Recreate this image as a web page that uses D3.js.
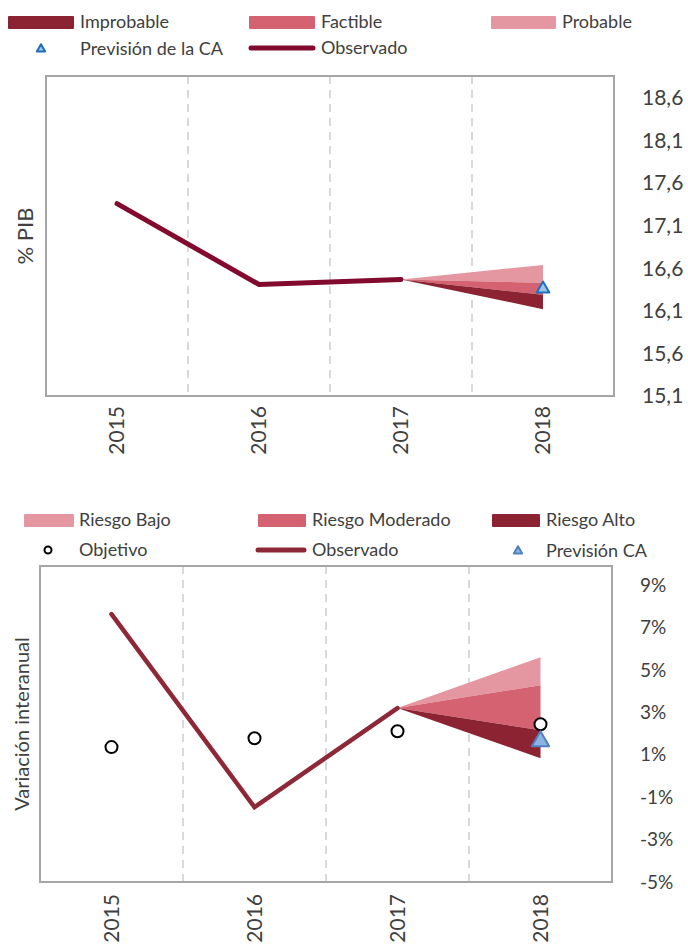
<!DOCTYPE html>
<html>
<head>
<meta charset="utf-8">
<script src="https://cdn.jsdelivr.net/npm/d3@7"></script>
<style>
  body { margin: 0; background: #fff; }
  text { font-family: Lato, "Open Sans", sans-serif; fill: #404040; }
</style>
</head>
<body>
<div class="chart"></div>
<script>
// datos
const years = ['2015', '2016', '2017', '2018'];

const pibObservado = [17.36, 16.41, 16.47];          // 2015-2017
const pibFan2018 = [16.12, 16.29, 16.43, 16.64];     // límites del abanico en 2018
const pibPrevisionCA = 16.36;
const pibTicks = [15.1, 15.6, 16.1, 16.6, 17.1, 17.6, 18.1, 18.6];

const varObservado = [7.63, -1.47, 3.2];
const varObjetivo = [1.36, 1.78, 2.11, 2.44];
const varFan2018 = [0.84, 2.16, 4.28, 5.6];
const varPrevisionCA = 1.64;
const varTicks = [-5, -3, -1, 1, 3, 5, 7, 9];

const cDark = '#8B2332', cMid = '#D56270', cLight = '#E497A0';

let svg = d3.select('.chart').append('svg').attr('width', 688).attr('height', 945);

// dibuja un panel: caja, líneas discontinuas, abanico, línea observada
let panel = (opt) => {
    let x = d3.scaleBand().domain(years).range([opt.left, opt.right]);
    let cx = (d) => x(d) + x.bandwidth() / 2;
    let y = d3.scaleLinear().domain(opt.domain).range([opt.bottom, opt.top]);
    let g = svg.append('g');

    // separadores discontinuos
    g.selectAll('line.sep').data(years.slice(1)).enter().append('line')
        .attr('x1', (d) => x(d)).attr('x2', (d) => x(d))
        .attr('y1', opt.top).attr('y2', opt.bottom)
        .attr('stroke', '#D9D9D9').attr('stroke-width', 2).attr('stroke-dasharray', '8,6');

    // abanico 2018
    let fan = opt.fan;
    let bands = [
        {lo: fan[2], hi: fan[3], c: cLight},
        {lo: fan[1], hi: fan[2], c: cMid},
        {lo: fan[0], hi: fan[1], c: cDark}
    ];
    let ax = cx('2017'), ay = y(opt.obs[2]);
    g.selectAll('path.fan').data(bands).enter().append('path')
        .attr('d', (d) => 'M' + ax + ',' + ay + 'L' + cx('2018') + ',' + y(d.hi) + 'L' + cx('2018') + ',' + y(d.lo) + 'Z')
        .attr('fill', (d) => d.c);

    g.append('path')
        .datum(opt.obs)
        .attr('d', d3.line().x((d, i) => cx(years[i])).y((d) => y(d)))
        .attr('fill', 'none').attr('stroke', opt.lineColor).attr('stroke-width', opt.lineWidth)
        .attr('stroke-linecap', 'round').attr('stroke-linejoin', 'miter');

    // caja
    g.append('rect')
        .attr('x', opt.left).attr('y', opt.top)
        .attr('width', opt.right - opt.left).attr('height', opt.bottom - opt.top)
        .attr('fill', 'none').attr('stroke', '#A6A6A6').attr('stroke-width', 2);

    // eje derecho
    let axis = g.append('g')
        .attr('transform', 'translate(' + (opt.right + 28) + ',0)')
        .call(d3.axisRight(y).tickValues(opt.ticks).tickSize(0).tickFormat(opt.fmt));
    axis.select('.domain').remove();
    axis.selectAll('text').attr('x', 0).style('font-size', opt.tickSize + 'px')
        .style('font-family', 'Lato, sans-serif').attr('fill', '#404040');

    // años
    g.selectAll('text.year').data(years).enter().append('text')
        .attr('transform', (d) => 'translate(' + cx(d) + ',' + (opt.bottom + opt.yearGap) + ') rotate(-90)')
        .attr('text-anchor', 'end').attr('dy', '0.35em')
        .style('font-size', '21px').text((d) => d);

    // título eje
    g.append('text')
        .attr('transform', 'translate(' + opt.titleX + ',' + ((opt.top + opt.bottom) / 2) + ') rotate(-90)')
        .attr('text-anchor', 'middle').attr('dy', '0.35em')
        .style('font-size', opt.titleSize + 'px').text(opt.title);

    return {x: x, cx: cx, y: y, g: g};
};

let triangle = (g, px, py, size, fill, stroke) => {
    g.append('path')
        .attr('d', d3.symbol().type(d3.symbolTriangle).size(size)())
        .attr('transform', 'translate(' + px + ',' + py + ')')
        .attr('fill', fill).attr('stroke', stroke).attr('stroke-width', 2).attr('stroke-linejoin', 'round');
};

// ---- Panel 1: % PIB
let p1 = panel({
    left: 46, right: 614, top: 76, bottom: 396,
    domain: [15.1, 18.86], ticks: pibTicks,
    fmt: (d) => d3.format('.1f')(d).replace('.', ','),
    obs: pibObservado, fan: pibFan2018,
    lineColor: '#820A2E', lineWidth: 5, tickSize: 21,
    yearGap: 10, title: '% PIB', titleX: 25, titleSize: 22
});
triangle(p1.g, p1.cx('2018'), p1.y(pibPrevisionCA), 70, '#9DC3E6', '#1F6FC0');

// ---- Panel 2: variación interanual
let p2 = panel({
    left: 40, right: 612, top: 566, bottom: 882,
    domain: [-5, 9.9], ticks: varTicks,
    fmt: (d) => d + '%',
    obs: varObservado, fan: varFan2018,
    lineColor: '#8E2736', lineWidth: 4.5, tickSize: 19,
    yearGap: 12, title: 'Variación interanual', titleX: 22, titleSize: 20
});
p2.g.selectAll('circle.obj').data(varObjetivo).enter().append('circle')
    .attr('cx', (d, i) => p2.cx(years[i])).attr('cy', (d) => p2.y(d))
    .attr('r', 6).attr('fill', '#fff').attr('stroke', '#000').attr('stroke-width', 2);
triangle(p2.g, p2.cx('2018'), p2.y(varPrevisionCA), 130, '#8DB3E2', '#4F81BD');

// ---- Leyendas
let legend = (items) => {
    let lg = svg.append('g');
    items.forEach((it) => {
        if (it.kind === 'rect') {
            lg.append('rect').attr('x', it.sx).attr('y', it.y - 6).attr('width', it.sw).attr('height', 13)
                .attr('fill', it.color).attr('rx', 1);
        } else if (it.kind === 'line') {
            lg.append('line').attr('x1', it.sx + 2).attr('x2', it.sx + it.sw - 2).attr('y1', it.y).attr('y2', it.y)
                .attr('stroke', it.color).attr('stroke-width', 5).attr('stroke-linecap', 'round');
        } else if (it.kind === 'tri') {
            triangle(lg, it.sx, it.y, 30, it.fill, it.color);
        } else if (it.kind === 'circle') {
            lg.append('circle').attr('cx', it.sx).attr('cy', it.y).attr('r', 3.5)
                .attr('fill', '#fff').attr('stroke', '#000').attr('stroke-width', 2);
        }
        lg.append('text').attr('x', it.tx).attr('y', it.y).attr('dy', '0.35em')
            .style('font-size', '18px').text(it.label);
    });
};

legend([
    {kind: 'rect', sx: 8, sw: 66, y: 22, color: cDark, tx: 80, label: 'Improbable'},
    {kind: 'rect', sx: 249, sw: 66, y: 22, color: cMid, tx: 321, label: 'Factible'},
    {kind: 'rect', sx: 491, sw: 65, y: 22, color: cLight, tx: 562, label: 'Probable'},
    {kind: 'tri', sx: 41, y: 49, color: '#1F6FC0', fill: '#9DC3E6', tx: 80, label: 'Previsión de la CA'},
    {kind: 'line', sx: 249, sw: 66, y: 48, color: '#820A2E', tx: 321, label: 'Observado'}
]);

legend([
    {kind: 'rect', sx: 24, sw: 50, y: 520, color: cLight, tx: 79, label: 'Riesgo Bajo'},
    {kind: 'rect', sx: 258, sw: 48, y: 520, color: cMid, tx: 312, label: 'Riesgo Moderado'},
    {kind: 'rect', sx: 492, sw: 48, y: 520, color: cDark, tx: 546, label: 'Riesgo Alto'},
    {kind: 'circle', sx: 48, y: 550, tx: 79, label: 'Objetivo'},
    {kind: 'line', sx: 256, sw: 50, y: 550, color: '#8E2736', tx: 312, label: 'Observado'},
    {kind: 'tri', sx: 518, y: 551, color: '#4F81BD', fill: '#8DB3E2', tx: 546, label: 'Previsión CA'}
]);
</script>
</body>
</html>
